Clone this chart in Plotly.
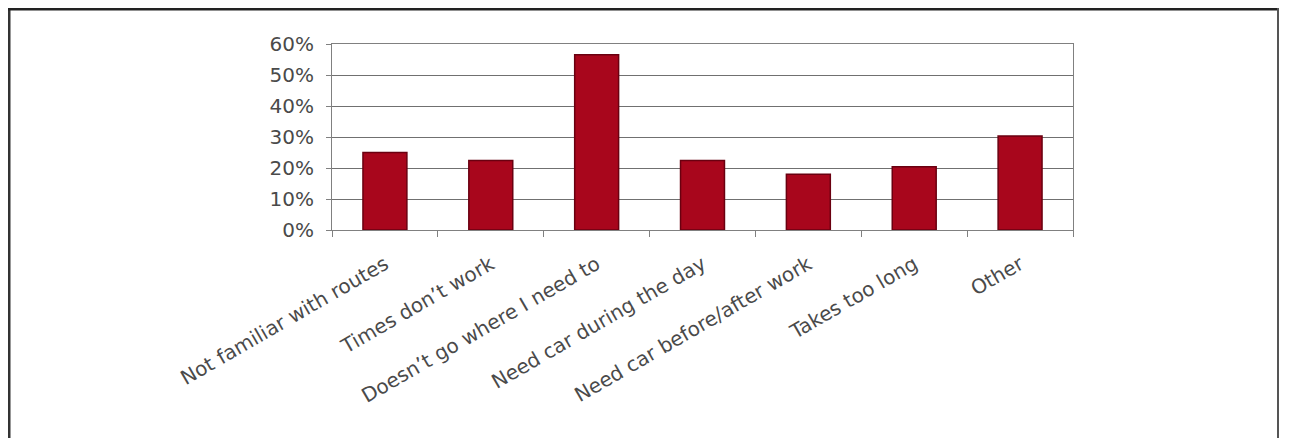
import plotly.graph_objects as go

categories = ["Not familiar with routes", "Times don\u2019t work", "Doesn\u2019t go where I need to",
              "Need car during the day", "Need car before/after work", "Takes too long", "Other"]
values = [0.25, 0.224, 0.565, 0.224, 0.18, 0.204, 0.303]
y_ticks = [0, 0.1, 0.2, 0.3, 0.4, 0.5, 0.6]
y_tick_labels = ["0%", "10%", "20%", "30%", "40%", "50%", "60%"]

fig = go.Figure(go.Bar(
    x=categories, y=values,
    marker=dict(color="#A8061C", line=dict(color="#6A0010", width=1.5)),
))

PW, PH = 741, 186
axis_font = dict(family="DejaVu Sans", size=20, color="#4a4a4a")
fig.update_layout(
    width=1281, height=430,
    margin=dict(l=324, r=216, t=36, b=208),
    paper_bgcolor="white", plot_bgcolor="white",
    bargap=0.585, showlegend=False,
    xaxis=dict(showline=True, linecolor="#808080", linewidth=1, mirror=True,
               ticks="outside", tickson="boundaries", ticklen=6, tickcolor="#808080",
               tickangle=-30, tickfont=axis_font, showgrid=False, ticklabelstandoff=14),
    yaxis=dict(range=[0, 0.6], tickvals=y_ticks, ticktext=y_tick_labels,
               showline=True, linecolor="#808080", linewidth=1, mirror=True,
               ticks="outside", ticklen=5, tickcolor="#808080",
               showgrid=True, gridcolor="#707070", gridwidth=1.2,
               tickfont=axis_font, zeroline=False, ticklabelstandoff=8),
    shapes=[
        dict(type="line", xref="paper", yref="paper", x0=-323/PW, x1=-323/PW, y0=1+36/PH, y1=-208/PH,
             line=dict(color="#333333", width=3)),
        dict(type="line", xref="paper", yref="paper", x0=-324/PW, x1=1+206/PW, y0=1+35/PH, y1=1+35/PH,
             line=dict(color="#222222", width=3)),
        dict(type="line", xref="paper", yref="paper", x0=1+205/PW, x1=1+205/PW, y0=1+36/PH, y1=-208/PH,
             line=dict(color="#555555", width=2)),
    ],
)

fig.write_html("out.html")
